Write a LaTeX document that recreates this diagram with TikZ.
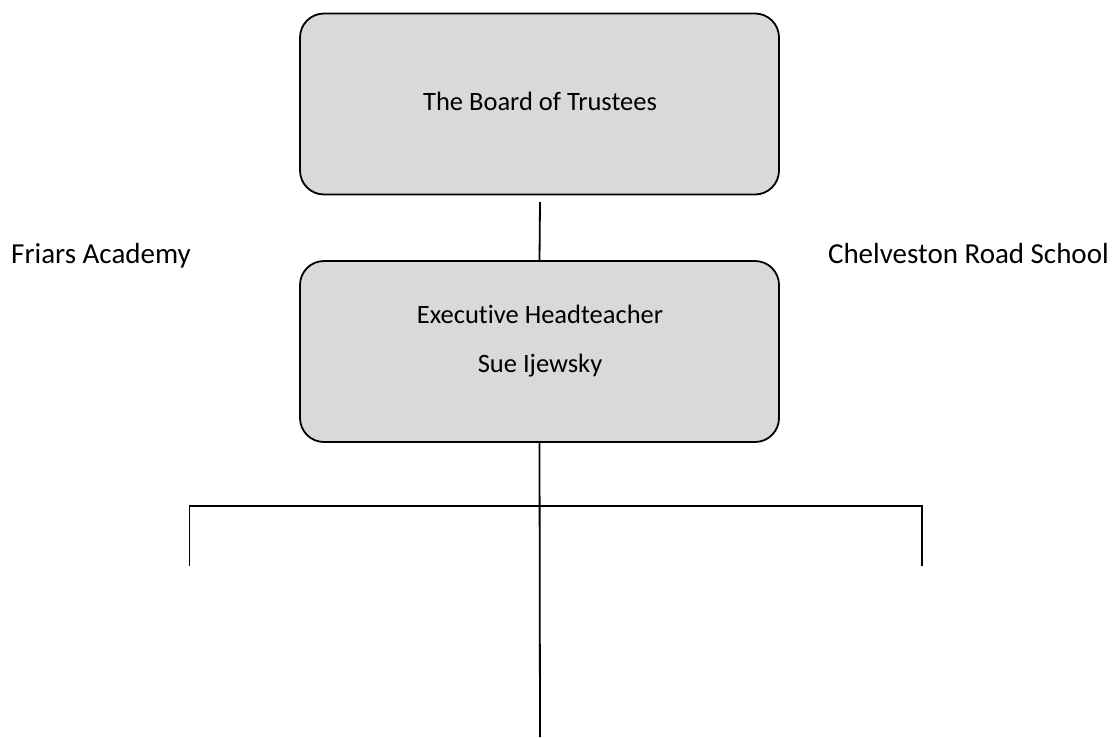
\documentclass[tikz,border=0pt]{standalone}
\usepackage{fontspec}
\setmainfont[Ligatures=NoCommon]{Carlito}
\begin{document}
\begin{tikzpicture}[x=1pt,y=-1pt,
  orgbox/.style={draw=black,line width=1.8pt,fill=boxgray,rounded corners=24pt,
    minimum width=479pt,minimum height=181pt,inner sep=0pt,outer sep=0pt},
  lbl/.style={font=\fontsize{29}{34}\selectfont,inner sep=0pt,anchor=base},
  boxlbl/.style={font=\fontsize{26.5}{32}\selectfont,inner sep=0pt,anchor=base},
  conn/.style={line width=1.8pt,draw=black}]
\definecolor{boxgray}{HTML}{D9D9D9}
\useasboundingbox (0,0) rectangle (1116,737);
\node[orgbox] (top) at (539.5,104) {};
\node[orgbox] (mid) at (539.5,351.5) {};
\node[boxlbl] (trustees) at (540,110) {The Board of Trustees};
\node[boxlbl] (exec) at (540,323) {Executive Headteacher};
\node[boxlbl] (sue) at (540,372) {Sue Ijewsky};
\node[lbl,anchor=base west] (friars) at (11,263) {Friars Academy};
\node[lbl,anchor=base east] (chel) at (1109,263) {Chelveston Road School};
\coordinate (topgap) at (540,202);
\coordinate (bottom) at (540,737);
\coordinate (hl) at (189.5,506);
\coordinate (hr) at (922,506);
\coordinate (ll) at (189.5,566);
\coordinate (rr) at (922,566);
\draw[conn] (topgap) -- (mid.north);
\draw[conn] (mid.south) -- (bottom);
\draw[conn] (ll) -- (hl) -- (hr) -- (rr);
\end{tikzpicture}
\end{document}
